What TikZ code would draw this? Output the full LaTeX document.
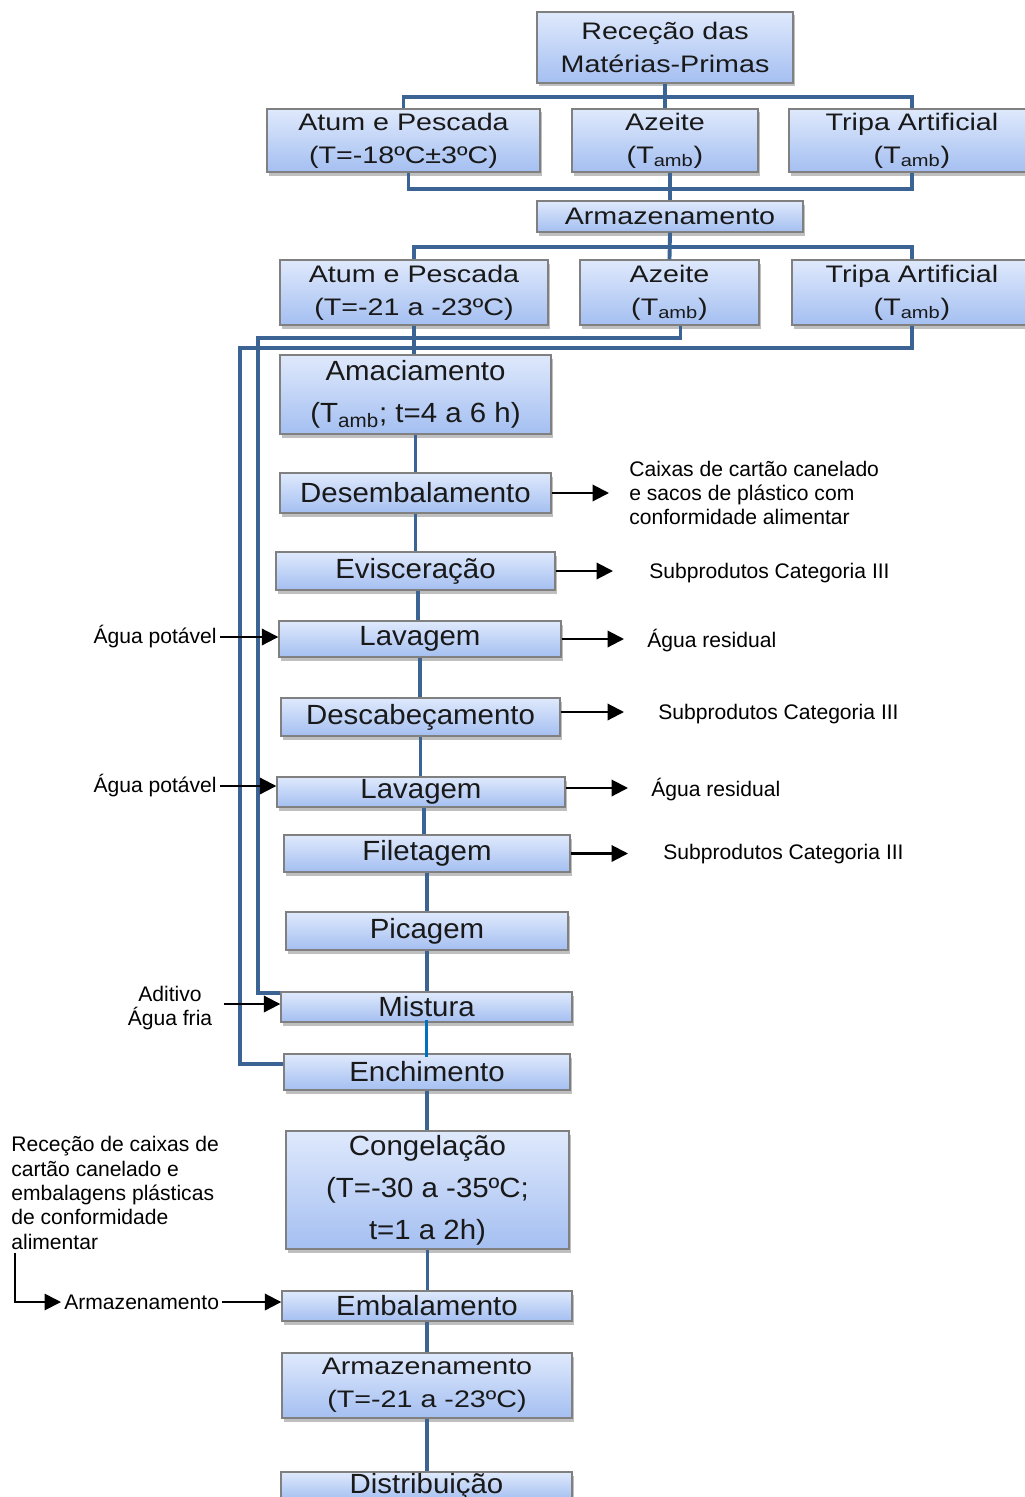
\documentclass[tikz,border=0pt]{standalone}
\usepackage{fontspec}
\setmainfont{Liberation Sans}
\newfontfamily\topf[FakeStretch=1.2]{Liberation Sans}
\newfontfamily\midf[FakeStretch=1.06]{Liberation Sans}
\usetikzlibrary{arrows.meta,shadows}
\definecolor{boxtop}{RGB}{223,233,252}
\definecolor{boxbot}{RGB}{164,191,241}
\definecolor{boxline}{RGB}{128,128,128}
\definecolor{linkc}{RGB}{59,99,148}
\definecolor{linkb}{RGB}{0,112,192}
\newcommand\pbox[7]{\node[#1, minimum width={(#4-#2)*0.02cm}, minimum height={(#5-#3)*0.02cm}] (#6) at ({(#2+#4)/2},{(#3+#5)/2}) {#7};}
\tikzset{
  box/.style={draw=boxline, line width=0.8pt, top color=boxtop, bottom color=boxbot,
    drop shadow={shadow xshift=0.03cm, shadow yshift=-0.07cm, opacity=0.25, fill=black},
    align=center, inner sep=0pt, text=black!90},
  topbox/.style={box, font=\topf\fontsize{13.6}{18.7}\selectfont},
  midbox/.style={box, font=\midf\fontsize{15.8}{23.8}\selectfont},
  side/.style={font=\fontsize{12}{13.9}\selectfont, inner sep=0.06cm, text=black},
  link/.style={draw=linkc, line width=2.2pt},
  linkblue/.style={draw=linkb, line width=1.7pt},
  arr/.style={draw=black, line width=1.2pt, -{Triangle[length=0.33cm,width=0.33cm]}}
}
\begin{document}
\begin{tikzpicture}[x=0.02cm,y=-0.02cm]
\useasboundingbox (0,0) rectangle (1024,1497);
% boxes
\pbox{topbox}{537}{12}{793}{83}{rec}{Receção das\\Matérias-Primas}
\pbox{topbox}{267}{109}{540}{172}{atumA}{Atum e Pescada\\(T=-18ºC±3ºC)}
\pbox{topbox}{572}{109}{758}{172}{azA}{Azeite\\(T\textsubscript{amb})}
\pbox{topbox}{789}{109}{1035}{172}{tripA}{Tripa Artificial\\(T\textsubscript{amb})}
\pbox{topbox}{537}{201}{803}{232}{armA}{Armazenamento}
\pbox{topbox}{280}{260}{548}{325}{atumB}{Atum e Pescada\\(T=-21 a -23ºC)}
\pbox{topbox}{580}{260}{759}{325}{azB}{Azeite\\(T\textsubscript{amb})}
\pbox{topbox}{792}{260}{1032}{325}{tripB}{Tripa Artificial\\(T\textsubscript{amb})}
\pbox{midbox}{280}{355}{551}{434}{amac}{Amaciamento\\(T\textsubscript{amb}; t=4 a 6 h)}
\pbox{midbox}{280}{473}{551}{513}{desemb}{Desembalamento}
\pbox{midbox}{276}{552}{555}{590}{evisc}{Evisceração}
\pbox{midbox}{279}{621}{561}{657}{lavA}{Lavagem}
\pbox{midbox}{281}{698}{560}{736}{desc}{Descabeçamento}
\pbox{midbox}{277}{777}{565}{807}{lavB}{Lavagem}
\pbox{midbox}{284}{835}{570}{872}{filet}{Filetagem}
\pbox{midbox}{286}{912}{568}{950}{pic}{Picagem}
\pbox{midbox}{281}{992}{572}{1022}{mist}{Mistura}
\pbox{midbox}{284}{1054}{570}{1090}{ench}{Enchimento}
\pbox{midbox}{286}{1131}{569}{1249}{cong}{Congelação\\(T=-30 a -35ºC;\\t=1 a 2h)}
\pbox{midbox}{282}{1291}{572}{1321}{emb}{Embalamento}
\pbox{topbox}{282}{1353}{572}{1418}{armB}{Armazenamento\\(T=-21 a -23ºC)}
\pbox{midbox}{281}{1472}{572}{1500}{dist}{Distribuição}
% bus coordinates
\coordinate (bus1) at (0,97);
\coordinate (bus2) at (0,189);
\coordinate (bus3) at (0,247);
\coordinate (lane2) at (258,338);
\coordinate (lane1) at (240,348);
% top tree
\draw[link] (rec.south) -- (azA.north);
\draw[link] (atumA.north) -- (atumA.north |- bus1) -- (tripA.north |- bus1) -- (tripA.north);
\draw[link] ([xshift=0.1cm]atumA.south) -- ([xshift=0.1cm]atumA.south |- bus2) -- (tripA.south |- bus2) -- (tripA.south);
\draw[link] (armA.north |- azA.south) -- (armA.north);
\draw[link] (armA.south) -- (azB.north);
\draw[link] (atumB.north) -- (atumB.north |- bus3) -- (tripB.north |- bus3) -- (tripB.north);
\draw[link] (atumB.south) -- (atumB.south |- amac.north);
\draw[link] ([xshift=0.22cm]azB.south) |- (lane2) |- ([yshift=-0.04cm]mist.north west);
\draw[link] (tripB.south) |- (lane1) |- ([yshift=0.16cm]ench.west);
% main chain
\draw[link] (amac.south) -- (amac.south |- desemb.north);
\draw[link] (desemb.south) -- (desemb.south |- evisc.north);
\draw[link] ([xshift=0.05cm]evisc.south) -- ([xshift=0.05cm]evisc.south |- lavA.north);
\draw[link] (lavA.south) -- (lavA.south |- desc.north);
\draw[link] (desc.south) -- (desc.south |- lavB.north);
\draw[link] ([xshift=0.06cm]lavB.south) -- ([xshift=0.06cm]lavB.south |- filet.north);
\draw[link] (filet.south) -- (filet.south |- pic.north);
\draw[link] (pic.south) -- (pic.south |- mist.north);
\draw[linkblue] ([yshift=0.06cm]mist.south) -- ([yshift=-0.08cm]mist.south |- ench.north);
\draw[link] (ench.south) -- (ench.south |- cong.north);
\draw[link] (cong.south) -- (cong.south |- emb.north);
\draw[link] (emb.south) -- (emb.south |- armB.north);
\draw[link] (armB.south) -- (armB.south |- dist.north);
% side texts
\node[side, anchor=west, align=left] (tD) at (626,493) {Caixas de cartão canelado\\e sacos de plástico com\\conformidade alimentar};
\node[side, anchor=west] (tE) at (646,573) {Subprodutos Categoria III};
\node[side, anchor=west] (tL1) at (644,641) {Água residual};
\node[side, anchor=west] (tDc) at (655,714) {Subprodutos Categoria III};
\node[side, anchor=west] (tL2) at (648,790) {Água residual};
\node[side, anchor=west] (tF) at (660,854) {Subprodutos Categoria III};
\node[side, anchor=east] (ap1) at (220,637) {Água potável};
\node[side, anchor=east] (ap2) at (220,786) {Água potável};
\node[side, align=center] (adit) at (170,1008) {Aditivo\\Água fria};
\node[side, anchor=west, align=left] (recT) at (8,1193) {Receção de caixas de\\cartão canelado e\\embalagens plásticas\\de conformidade\\alimentar};
\node[side, anchor=west] (armS) at (61,1302) {Armazenamento};
% arrow end coordinates
\coordinate (eD) at (609,0);
\coordinate (eE) at (613,0);
\coordinate (eL1) at (624,0);
\coordinate (eDc) at (624,0);
\coordinate (eL2) at (628,0);
\coordinate (eF) at (628,0);
% black arrows
\draw[arr] (desemb.east) -- (desemb.east -| eD);
\draw[arr] (evisc.east) -- (evisc.east -| eE);
\draw[arr] (lavA.east) -- (lavA.east -| eL1);
\draw[arr] ([yshift=0.1cm]desc.east) -- ([yshift=0.1cm]desc.east -| eDc);
\draw[arr] ([yshift=0.08cm]lavB.east) -- ([yshift=0.08cm]lavB.east -| eL2);
\draw[arr] (filet.east) -- (filet.east -| eF);
\draw[arr] (ap1.east) -- (ap1.east -| lavA.west);
\draw[arr] (ap2.east) -- (ap2.east -| lavB.west);
\draw[arr] ([xshift=0.16cm,yshift=0.08cm]adit.east) -- ([yshift=0.08cm]adit.east -| mist.west);
\draw[arr] (armS.east) -- (armS.east -| emb.west);
\draw[arr, line width=1pt] ([xshift=0.14cm]recT.south west) |- (armS.west);
\end{tikzpicture}
\end{document}
